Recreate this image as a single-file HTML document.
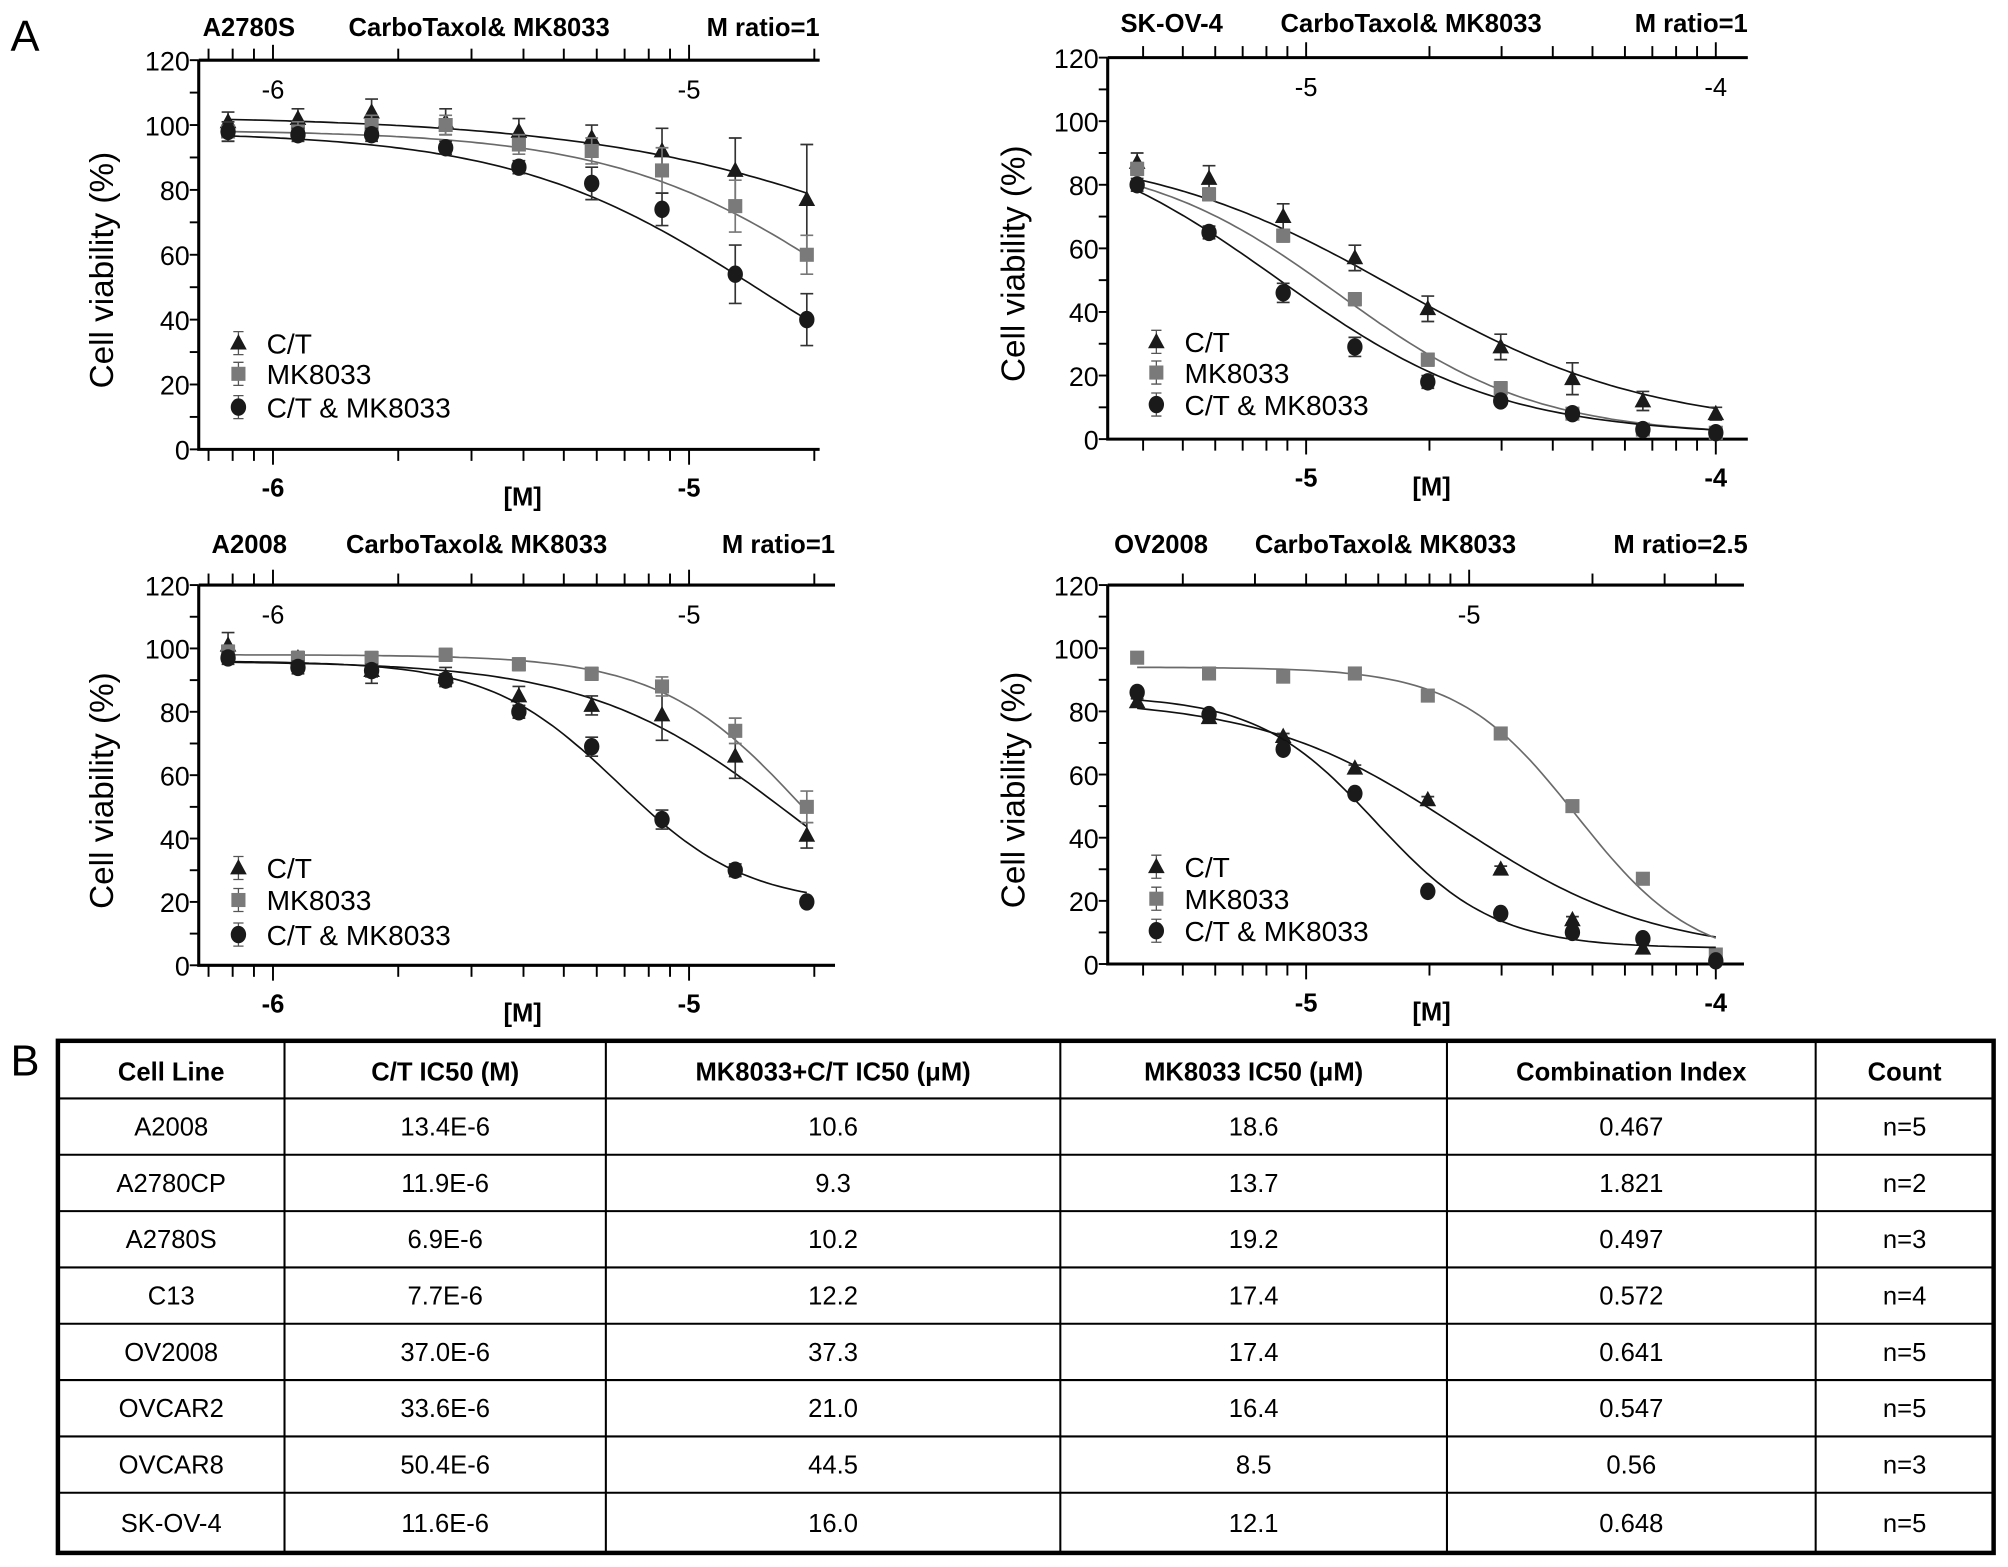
<!DOCTYPE html>
<html><head><meta charset="utf-8"><style>
html,body{margin:0;padding:0;background:#fff;}
svg{display:block;font-family:"Liberation Sans",sans-serif;}
</style></head><body>
<svg id="fig" width="2008" height="1567" viewBox="0 0 1568 1224" xmlns="http://www.w3.org/2000/svg">
<rect x="0" y="0" width="1568" height="1224" fill="#fff"/>
<text x="8" y="40" font-size="34">A</text>
<text x="8" y="840" font-size="34">B</text>
<g id="charts"></g>
<g id="table"></g>
</svg>
<script>
// ---- Panel 1: A2780S ----
const p1Log=[-6.108,-5.94,-5.763,-5.585,-5.409,-5.234,-5.065,-4.889,-4.717];
const p1CT=[101,102,104,101,98,96,92,86,77];
const p1MK=[98,98,100,100,94,92,86,75,60];
const p1CB=[98,97,97,93,87,82,74,54,40];
const p1CTerr=[3,3,4,4,4,4,7,10,17];
const p1MKerr=[3,3,3,3,3,4,7,8,6];
const p1CBerr=[3,2,2,2,2,5,5,9,8];
const p1FitCT=[103,0,-4.2,1];
const p1FitMK=[98.5,0,-4.59,1.5];
const p1FitCB=[98,0,-4.828,1.45];
// ---- Panel 2: SK-OV-4 ----
const p2Log=[-5.4125,-5.237,-5.056,-4.881,-4.703,-4.525,-4.35,-4.178,-4.0];
const p2CT=[87,82,70,57,41,29,19,12,8];
const p2MK=[85,77,64,44,25,16,8,3,2];
const p2CB=[80,65,46,29,18,12,8,3,2];
const p2CTerr=[3,4,4,4,4,4,5,3,2];
const p2MKerr=[2,2,2,2,2,2,1,1,1];
const p2CBerr=[2,2,3,3,2,1,1,1,1];
const p2FitCT=[92,3,-4.78,1.4];
const p2FitMK=[90,1,-4.92,1.8];
const p2FitCB=[100,1,-5.07,1.6];
// ---- Panel 3: A2008 ----
const p3Log=[-6.108,-5.94,-5.763,-5.585,-5.409,-5.234,-5.065,-4.889,-4.717];
const p3CT=[101,97,93,91,85,82,79,66,41];
const p3MK=[99,97,97,98,95,92,88,74,50];
const p3CB=[97,94,93,90,80,69,46,30,20];
const p3CTerr=[4,2,4,3,3,3,8,7,4];
const p3MKerr=[2,2,2,2,2,2,3,4,5];
const p3CBerr=[2,2,2,2,2,3,3,2,1];
const p3FitCT=[96,0,-4.76,1.8];
const p3FitMK=[98,0,-4.72,2.5];
const p3FitCB=[96,19,-5.17,2.8];
// ---- Panel 4: OV2008 ----
const p4Log=[-5.4125,-5.237,-5.056,-4.881,-4.703,-4.525,-4.35,-4.178,-4.0];
const p4CT=[83,78,72,62,52,30,14,5,2];
const p4MK=[97,92,91,92,85,73,50,27,3];
const p4CB=[86,79,68,54,23,16,10,8,1];
const p4CTerr=[1,1,1,1,1,1,1,1,1];
const p4MKerr=[0,0,0,0,0,0,0,0,0];
const p4CBerr=[0,0,0,0,0,0,0,0,0];
const p4FitCT=[84,3,-4.63,1.8];
const p4FitMK=[94,0,-4.34,3];
const p4FitCB=[85,5,-4.83,3];
const yTicks=[0,20,40,60,80,100,120];
const legendLabels=["C/T","MK8033","C/T & MK8033"];
// ---- Table ----
const tHead=["Cell Line","C/T IC50 (M)","MK8033+C/T IC50 (μM)","MK8033 IC50 (μM)","Combination Index","Count"];
const tCell=["A2008","A2780CP","A2780S","C13","OV2008","OVCAR2","OVCAR8","SK-OV-4"];
const tCT=["13.4E-6","11.9E-6","6.9E-6","7.7E-6","37.0E-6","33.6E-6","50.4E-6","11.6E-6"];
const tComb=["10.6","9.3","10.2","12.2","37.3","21.0","44.5","16.0"];
const tMK=["18.6","13.7","19.2","17.4","17.4","16.4","8.5","12.1"];
const tCI=["0.467","1.821","0.497","0.572","0.641","0.547","0.56","0.648"];
const tCount=["n=5","n=2","n=3","n=4","n=5","n=5","n=3","n=5"];

const NS="http://www.w3.org/2000/svg";
function mk(tag,attrs,parent,txt){const e=document.createElementNS(NS,tag);for(const k in attrs)e.setAttribute(k,attrs[k]);if(txt!==undefined)e.textContent=txt;parent.appendChild(e);return e;}

const panels=[
 {id:"a2780s",name:"A2780S",combo:"CarboTaxol& MK8033",ratio:"M ratio=1",x0:155,x1:640,yTop:47,yBot:351,refLog:-6,refX:213,ppd:325,shift:0,hx:[158,272,640],hy:28,ytx:88,bl:[-6,-5],mx:408,lgx:186,lgy:[268,292,318],
  log:p1Log,ct:p1CT,mk:p1MK,cb:p1CB,cte:p1CTerr,mke:p1MKerr,cbe:p1CBerr,fct:p1FitCT,fmk:p1FitMK,fcb:p1FitCB},
 {id:"skov4",name:"SK-OV-4",combo:"CarboTaxol& MK8033",ratio:"M ratio=1",x0:865,x1:1365,yTop:45,yBot:343,refLog:-5,refX:1020,ppd:320,shift:0,hx:[875,1000,1365],hy:25,ytx:800,bl:[-5,-4],mx:1118,lgx:903,lgy:[267,291,316],
  log:p2Log,ct:p2CT,mk:p2MK,cb:p2CB,cte:p2CTerr,mke:p2MKerr,cbe:p2CBerr,fct:p2FitCT,fmk:p2FitMK,fcb:p2FitCB},
 {id:"a2008",name:"A2008",combo:"CarboTaxol& MK8033",ratio:"M ratio=1",x0:155,x1:652,yTop:457,yBot:754,refLog:-6,refX:213,ppd:325,shift:0,hx:[165,270,652],hy:432,ytx:88,bl:[-6,-5],mx:408,lgx:186,lgy:[678,703,730],
  log:p3Log,ct:p3CT,mk:p3MK,cb:p3CB,cte:p3CTerr,mke:p3MKerr,cbe:p3CBerr,fct:p3FitCT,fmk:p3FitMK,fcb:p3FitCB},
 {id:"ov2008",name:"OV2008",combo:"CarboTaxol& MK8033",ratio:"M ratio=2.5",x0:865,x1:1362,yTop:457,yBot:753,refLog:-5,refX:1020,ppd:320,shift:Math.log10(2.5),hx:[870,980,1365],hy:432,ytx:800,bl:[-5,-4],mx:1118,lgx:903,lgy:[677,702,727],
  log:p4Log,ct:p4CT,mk:p4MK,cb:p4CB,cte:p4CTerr,mke:p4MKerr,cbe:p4CBerr,fct:p4FitCT,fmk:p4FitMK,fcb:p4FitCB}
];
const charts=document.getElementById('charts');
function hill(p,l){return p[1]+(p[0]-p[1])/(1+Math.pow(10,p[3]*(l-p[2])));}
function marker(g,type,x,y){
 let e;
 if(type==="ct"){e=mk('polygon',{points:`${x},${y-7} ${x-6.5},${y+5} ${x+6.5},${y+5}`,fill:"#1a1a1a"},g);}
 else if(type==="mk"){e=mk('rect',{x:x-5.5,y:y-5.5,width:11,height:11,fill:"#7a7a7a"},g);}
 else {e=mk('ellipse',{cx:x,cy:y,rx:6,ry:6.8,fill:"#1a1a1a"},g);}
 return e;
}
panels.forEach(P=>{
 const g=mk('g',{},charts);
 
 
 const X=l=>P.refX+(l-P.refLog)*P.ppd;
 const Y=v=>P.yBot-(v/120)*(P.yBot-P.yTop);
 const h1=mk('text',{x:P.hx[0],y:P.hy,"font-size":20,"font-weight":"bold"},g,P.name);
  
 const h2=mk('text',{x:P.hx[1],y:P.hy,"font-size":20,"font-weight":"bold"},g,P.combo);
  
 const h3=mk('text',{x:P.hx[2],y:P.hy,"font-size":20,"font-weight":"bold","text-anchor":"end"},g,P.ratio);
  
 const ax=mk('path',{d:`M${P.x0},${P.yTop}V${P.yBot}H${P.x1}M${P.x0},${P.yTop}H${P.x1}`,stroke:"#000","stroke-width":2.4,fill:"none"},g);
  
 for(let v=0;v<=120;v+=10){mk('line',{x1:P.x0-7,x2:P.x0,y1:Y(v),y2:Y(v),stroke:"#000","stroke-width":1.5},g);}
 yTicks.forEach(v=>{const t=mk('text',{x:P.x0-7,y:Y(v)+8,"font-size":21,"text-anchor":"end"},g,String(v));
   });
 const yt=mk('text',{x:P.ytx,y:(P.yTop+P.yBot)/2+12,"font-size":26,"text-anchor":"middle",transform:`rotate(-90 ${P.ytx} ${(P.yTop+P.yBot)/2+12})`},g,"Cell viability (%)");
  
 for(let d=-8;d<=-3;d++){for(let k=1;k<=9;k++){
  const l=d+Math.log10(k);
  const xb=X(l);
  if(xb>=P.x0+5&&xb<=P.x1-2){mk('line',{x1:xb,x2:xb,y1:P.yBot,y2:P.yBot+(k===1?12:9),stroke:"#000","stroke-width":1.5},g);}
  const xt=X(l+P.shift);
  if(xt>=P.x0+5&&xt<=P.x1-2){mk('line',{x1:xt,x2:xt,y1:P.yTop,y2:P.yTop-(k===1?12:9),stroke:"#000","stroke-width":1.5},g);
   if(k===1){const tl=mk('text',{x:xt,y:P.yTop+30,"font-size":20,"text-anchor":"middle"},g,String(d));
     }}
 }}
 P.bl.forEach(d=>{const t=mk('text',{x:X(d),y:P.yBot+37,"font-size":20,"font-weight":"bold","text-anchor":"middle"},g,String(d));
   });
 const mt=mk('text',{x:P.mx,y:P.yBot+44,"font-size":20,"font-weight":"bold","text-anchor":"middle"},g,"[M]");
  
 const series=[["ct",P.ct,P.cte,P.fct,"#111"],["mk",P.mk,P.mke,P.fmk,"#6a6a6a"],["cb",P.cb,P.cbe,P.fcb,"#111"]];
 series.forEach(([key,vals,errs,fit,col])=>{
  const sg=mk('g',{},g);
   
  const l0=P.log[0],l1=P.log[P.log.length-1];let d="";
  for(let i=0;i<=100;i++){const l=l0+(l1-l0)*i/100;d+=(i?"L":"M")+X(l).toFixed(1)+","+Y(hill(fit,l)).toFixed(1);}
  const c=mk('path',{d:d,stroke:col,"stroke-width":1.3,fill:"none"},sg);
   
  vals.forEach((v,i)=>{
   const x=X(P.log[i]),y=Y(v),e=errs[i];
   if(e>0){const eb=mk('path',{d:`M${x},${Y(v-e)}V${Y(v+e)}M${x-5},${Y(v+e)}H${x+5}M${x-5},${Y(v-e)}H${x+5}`,stroke:col==="#111"?"#333":"#777","stroke-width":1.3,fill:"none"},sg);
     }
   const m=marker(sg,key,x,y);
    
  });
 });
 ["ct","mk","cb"].forEach((key,i)=>{
  const lg=mk('g',{},g);
   
  const y=P.lgy[i];
  mk('path',{d:`M${P.lgx-4},${y-9}H${P.lgx+4}M${P.lgx},${y-9}V${y+9}M${P.lgx-4},${y+9}H${P.lgx+4}`,stroke:"#555","stroke-width":1},lg);
  marker(lg,key,P.lgx,y);
  mk('text',{x:P.lgx+22,y:y+8,"font-size":22},lg,legendLabels[i]);
 });
});
const tb=document.getElementById('table');
const colX=[45,222,473,828,1130,1418,1557];
const rowY=[813,858,902,946,990,1034,1078,1122,1166,1213];
mk('rect',{x:45,y:813,width:1512,height:400,fill:"none",stroke:"#000","stroke-width":3.5},tb);
colX.slice(1,-1).forEach(x=>mk('line',{x1:x,x2:x,y1:813,y2:1213,stroke:"#000","stroke-width":1.6},tb));
rowY.slice(1,-1).forEach(y=>mk('line',{x1:45,x2:1557,y1:y,y2:y,stroke:"#000","stroke-width":1.6},tb));
tHead.forEach((h,j)=>{const t=mk('text',{x:(colX[j]+colX[j+1])/2,y:844,"font-size":20,"font-weight":"bold","text-anchor":"middle"},tb,h);
  });
const cols=[tCell,tCT,tComb,tMK,tCI,tCount];
tCell.forEach((_,i)=>{
 const cy=(rowY[i+1]+rowY[i+2])/2+7;
 cols.forEach((arr,j)=>{const t=mk('text',{x:(colX[j]+colX[j+1])/2,y:cy,"font-size":20,"text-anchor":"middle"},tb,arr[i]);
   });
});
</script>
</body></html>
